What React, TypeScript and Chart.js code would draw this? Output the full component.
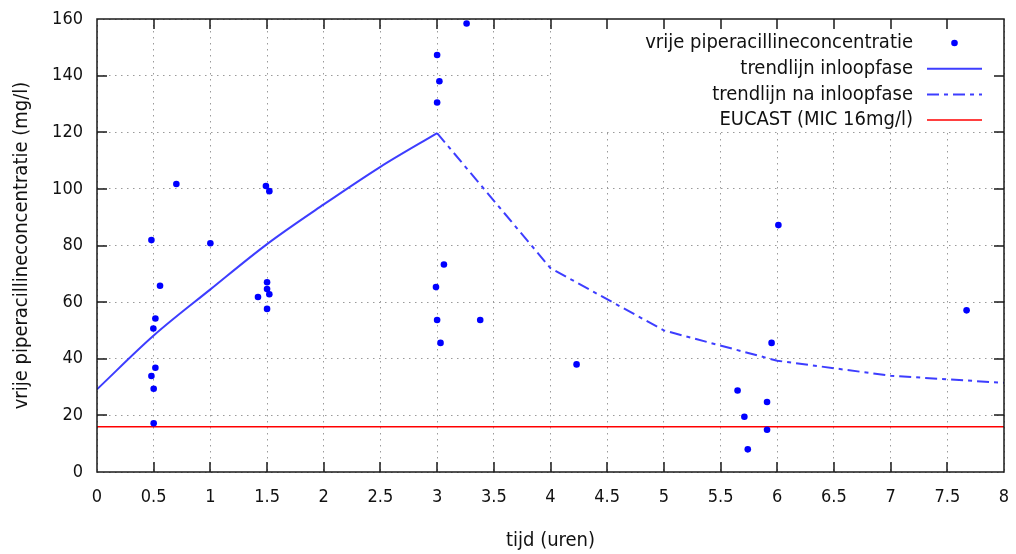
import { useEffect, useRef } from "react";
import { Chart, registerables } from "chart.js";

Chart.register(...registerables);

const FONT = '"DejaVu Sans Condensed", "DejaVu Sans", sans-serif';

// Measured samples: time (hours) and free piperacillin concentration (mg/l)
const sampleHours = [
  0.7, 0.48, 1.0, 1.49, 1.52, 0.556, 0.515, 0.497, 0.515, 0.48, 0.5, 0.5,
  1.5, 1.5, 1.52, 1.42, 1.5,
  3.26, 3.0, 3.02, 3.0, 3.06, 2.99, 3.0, 3.38, 3.03,
  4.23, 6.01, 5.95, 5.65, 5.91, 5.71, 5.91, 5.74, 7.67,
];
const sampleConc = [
  101.7, 81.9, 80.8, 101.0, 99.2, 65.8, 54.2, 50.7, 36.8, 33.9, 29.4, 17.2,
  67.0, 64.6, 62.8, 61.8, 57.6,
  158.4, 147.3, 138.0, 130.5, 73.3, 65.3, 53.7, 53.7, 45.6,
  38.0, 87.2, 45.6, 28.8, 24.7, 19.5, 14.9, 8.0, 57.1,
];

// Trend line during run-in phase
const runInHours = [0, 0.5, 1, 1.5, 2, 2.5, 3];
const runInConc = [29.2, 48.2, 64.5, 80.5, 94.5, 107.8, 119.7];

// Trend line after run-in phase
const afterHours = [3, 4, 5, 6, 7, 8];
const afterConc = [119.7, 72.0, 50.0, 39.3, 34.0, 31.5];

// EUCAST MIC threshold
const micHours = [0, 8];
const micConc = [16, 16];

const seriesLabels = [
  "vrije piperacillineconcentratie",
  "trendlijn inloopfase",
  "trendlijn na inloopfase",
  "EUCAST (MIC 16mg/l)",
];
const xAxisTitle = "tijd (uren)";
const yAxisTitle = "vrije piperacillineconcentratie (mg/l)";

const toPoints = (xs: number[], ys: number[]) => xs.map((x, i) => ({ x, y: ys[i] }));

export default function App() {
  const ref = useRef<HTMLCanvasElement>(null);

  useEffect(() => {
    document.body.style.margin = "0";
    const canvas = ref.current;
    if (!canvas) return;

    const gnuKey = {
      id: "gnuKey",
      beforeDatasetsDraw(chart: any) {
        const { ctx, chartArea: a } = chart;
        ctx.save();
        ctx.fillStyle = "#ffffff";
        ctx.fillRect(a.right - 452, a.top, 452, 113);
        ctx.restore();
      },
      afterDatasetsDraw(chart: any) {
        const { ctx, chartArea: a, scales } = chart;
        ctx.save();
        // inward tick marks on all four sides
        ctx.strokeStyle = "#1a1a1a";
        ctx.lineWidth = 1.5;
        const tl = 10;
        scales.x.ticks.forEach((t: any) => {
          const px = Math.round(scales.x.getPixelForValue(t.value));
          if (px <= a.left + 1 || px >= a.right - 1) return;
          ctx.beginPath();
          ctx.moveTo(px, a.bottom);
          ctx.lineTo(px, a.bottom - tl);
          ctx.moveTo(px, a.top);
          ctx.lineTo(px, a.top + tl);
          ctx.stroke();
        });
        scales.y.ticks.forEach((t: any) => {
          const py = Math.round(scales.y.getPixelForValue(t.value));
          if (py <= a.top + 1 || py >= a.bottom - 1) return;
          ctx.beginPath();
          ctx.moveTo(a.left, py);
          ctx.lineTo(a.left + tl, py);
          ctx.moveTo(a.right, py);
          ctx.lineTo(a.right - tl, py);
          ctx.stroke();
        });
        // frame
        ctx.strokeRect(a.left, a.top, a.right - a.left, a.bottom - a.top);

        // key
        const textRight = a.right - 91;
        const symL = a.right - 77;
        const symR = a.right - 22;
        const rowH = 25.7;
        ctx.font = `20px ${FONT}`;
        ctx.textAlign = "right";
        ctx.textBaseline = "middle";
        chart.data.datasets.forEach((ds: any, i: number) => {
          const y = a.top + 24 + i * rowH;
          ctx.fillStyle = "#111";
          ctx.fillText(ds.label, textRight, y);
          if (i === 0) {
            ctx.fillStyle = ds.backgroundColor;
            ctx.beginPath();
            ctx.arc((symL + symR) / 2, y, 3.3, 0, Math.PI * 2);
            ctx.fill();
          } else {
            ctx.strokeStyle = ds.borderColor;
            ctx.lineWidth = ds.borderWidth;
            ctx.setLineDash(ds.borderDash || []);
            ctx.beginPath();
            ctx.moveTo(symL, y);
            ctx.lineTo(symR, y);
            ctx.stroke();
            ctx.setLineDash([]);
          }
        });
        ctx.restore();
      },
    };

    const chart = new Chart(canvas, {
      type: "scatter",
      data: {
        datasets: [
          {
            label: seriesLabels[0],
            data: toPoints(sampleHours, sampleConc),
            showLine: false,
            pointRadius: 3.3,
            pointBorderWidth: 0,
            backgroundColor: "#0000ff",
            borderColor: "#0000ff",
            order: 0,
          },
          {
            label: seriesLabels[1],
            data: toPoints(runInHours, runInConc),
            showLine: true,
            pointRadius: 0,
            borderColor: "rgba(40,40,255,0.9)",
            borderWidth: 2,
            cubicInterpolationMode: "monotone",
            order: 1,
          },
          {
            label: seriesLabels[2],
            data: toPoints(afterHours, afterConc),
            showLine: true,
            pointRadius: 0,
            borderColor: "rgba(40,40,255,0.9)",
            borderWidth: 2,
            borderDash: [12, 5, 4, 5],
            tension: 0,
            order: 2,
          },
          {
            label: seriesLabels[3],
            data: toPoints(micHours, micConc),
            showLine: true,
            pointRadius: 0,
            borderColor: "#ff0000",
            borderWidth: 1.5,
            order: 3,
          },
        ],
      },
      options: {
        animation: false,
        responsive: false,
        maintainAspectRatio: false,
        layout: { padding: { top: 19, right: 12, left: 0, bottom: 0 } },
        plugins: {
          legend: { display: false },
          tooltip: { enabled: false },
        },
        scales: {
          x: {
            type: "linear",
            min: 0,
            max: 8,
            afterFit: (s: any) => {
              s.height = 82;
              s.paddingLeft = 0;
              s.paddingRight = 0;
            },
            ticks: {
              stepSize: 0.5,
              padding: 15,
              color: "#111",
              font: { family: FONT, size: 18 },
              callback: (v: any) => String(v),
            },
            grid: { color: "#9a9a9a", lineWidth: 1, drawTicks: false },
            border: { display: false, dash: [1.5, 4.5] },
            title: {
              display: true,
              text: xAxisTitle,
              color: "#111",
              font: { family: FONT, size: 20 },
              padding: { top: 0, bottom: 1 },
            },
          },
          y: {
            type: "linear",
            min: 0,
            max: 160,
            afterFit: (s: any) => {
              s.width = 97;
              s.paddingTop = 0;
              s.paddingBottom = 0;
            },
            ticks: {
              stepSize: 20,
              padding: 14,
              color: "#111",
              font: { family: FONT, size: 18 },
            },
            grid: { color: "#9a9a9a", lineWidth: 1, drawTicks: false },
            border: { display: false, dash: [1.5, 4.5] },
            title: {
              display: true,
              text: yAxisTitle,
              color: "#111",
              font: { family: FONT, size: 20 },
              padding: { top: 10, bottom: 0 },
            },
          },
        },
      },
      plugins: [gnuKey],
    });

    return () => chart.destroy();
  }, []);

  return <canvas ref={ref} width={1016} height={554} style={{ display: "block" }} />;
}
